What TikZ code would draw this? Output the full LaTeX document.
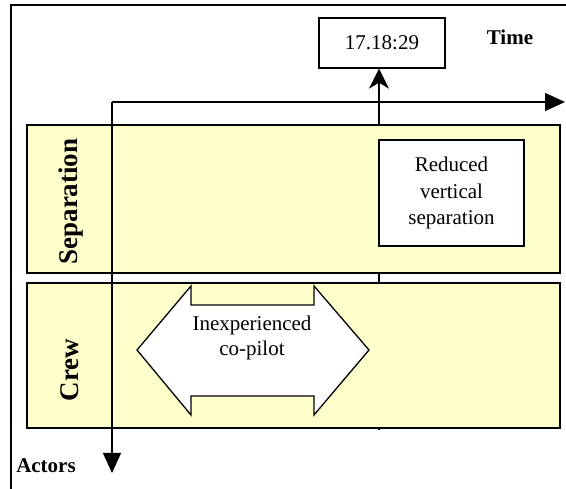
\documentclass[tikz,border=0pt]{standalone}
\usepackage{fontspec}
\setmainfont{Liberation Serif}
\usetikzlibrary{arrows.meta,shadows}
\definecolor{laneyellow}{HTML}{FFFFCC}
\begin{document}
\begin{tikzpicture}[x=1pt,y=-1pt,
  txt/.style={font=\rmfamily\fontsize{21}{26}\selectfont, align=center, inner sep=0pt},
  boldtxt/.style={font=\rmfamily\fontsize{21}{26}\selectfont\bfseries, inner sep=0pt},
  lanetitle/.style={font=\rmfamily\fontsize{27}{30}\selectfont\bfseries, inner sep=0pt, rotate=90},
  lane/.style={draw=black, line width=1.3pt, fill=laneyellow, minimum width=533pt,
    inner sep=0pt, drop shadow={shadow xshift=1.4pt, shadow yshift=-1.4pt, fill=gray!80, opacity=1}},
  whitebox/.style={draw=black, line width=1.3pt, fill=white, inner sep=0pt},
  axis/.style={line width=1.3pt, -{Triangle[length=20pt,width=18pt]}},
  link/.style={line width=1.3pt, -{Stealth[length=20pt,width=20pt,inset=6pt]}},
  frame/.style={line width=1.2pt}]
\useasboundingbox (0,0) rectangle (566,489);

% outer frame (top and left edges)
\coordinate (frametl) at (11,5);
\coordinate (frametr) at (566,5);
\coordinate (framebl) at (11,489);
\draw[frame] (frametr) -- (frametl) -- (framebl);

% time stamp and its connector running up from the crew lane
\node[whitebox, minimum width=126pt, minimum height=50pt] (timebox) at (382,43) {};
\node[txt] (timetext) at (382,43) {17.18:29};
\coordinate (eventfoot) at (379,430);
\draw[link] (eventfoot) -- (eventfoot |- timebox.south);

% lanes
\node[lane, minimum height=148pt] (seplane) at (293.5,199) {};
\node[lane, minimum height=145pt] (crewlane) at (293.5,355.5) {};

% lane titles
\node[lanetitle] (septitle) at (71,201.5) {Separation};
\node[lanetitle] (crewtitle) at (70,370) {Crew};

% event in the separation lane
\node[whitebox, minimum width=145pt, minimum height=106pt] (reduced) at (451.5,193) {};
\node[txt, font=\rmfamily\fontsize{21}{26.5}\selectfont] (reducedtext) at (451.5,193) {Reduced\\vertical\\separation};

% condition in the crew lane
\draw[line width=1.3pt, fill=white] (137,350) -- (191,286) -- (191,305) -- (314,305)
  -- (314,286) -- (369,350) -- (314,415) -- (314,396) -- (191,396) -- (191,415) -- cycle;
\node[txt, font=\rmfamily\fontsize{21}{25}\selectfont] (copilot) at (252,338) {Inexperienced\\co-pilot};

% time and actor axes
\coordinate (origin) at (112,102);
\coordinate (timeend) at (565,102);
\coordinate (actorend) at (112,473);
\draw[axis] (origin) -- (timeend);
\draw[axis] (origin) -- (actorend);

\node[boldtxt] (timelabel) at (510,37) {Time};
\node[boldtxt] (actorslabel) at (46,466) {Actors};
\end{tikzpicture}
\end{document}
